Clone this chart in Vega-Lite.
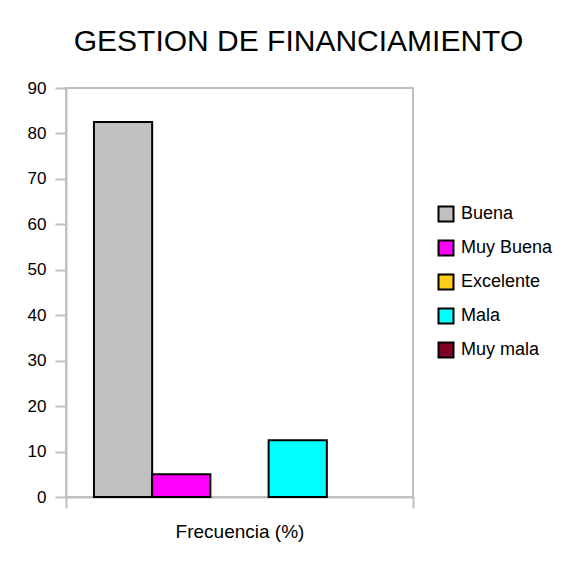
{
  "$schema": "https://vega.github.io/schema/vega-lite/v6.json",
  "autosize": {"type": "none"},
  "width": 347,
  "height": 409,
  "padding": {"left": 66, "top": 88, "right": 158, "bottom": 68},
  "background": "white",
  "title": {
    "text": "GESTION DE FINANCIAMIENTO",
    "font": "Liberation Sans",
    "fontSize": 30,
    "fontWeight": "normal",
    "color": "black",
    "anchor": "middle",
    "frame": "group",
    "dx": 59,
    "baseline": "alphabetic",
    "offset": -2
  },
  "data": {
    "values": [
      {"serie": "Frecuencia (%)", "categoria": "Buena", "valor": 82.5},
      {"serie": "Frecuencia (%)", "categoria": "Muy Buena", "valor": 5},
      {"serie": "Frecuencia (%)", "categoria": "Excelente", "valor": 0},
      {"serie": "Frecuencia (%)", "categoria": "Mala", "valor": 12.5},
      {"serie": "Frecuencia (%)", "categoria": "Muy mala", "valor": 0}
    ]
  },
  "transform": [{"filter": "datum.valor > 0"}],
  "mark": {"type": "bar", "stroke": "black", "strokeWidth": 2, "opacity": 1},
  "encoding": {
    "x": {
      "field": "serie",
      "type": "nominal",
      "scale": {"paddingInner": 0, "paddingOuter": 0},
      "axis": {
        "title": "Frecuencia (%)",
        "labels": false,
        "tickBand": "extent",
        "domainColor": "#c0c0c0",
        "domainWidth": 2,
        "tickColor": "#c0c0c0",
        "tickWidth": 2,
        "tickSize": 11,
        "titleFont": "Liberation Sans",
        "titleFontSize": 19,
        "titleFontWeight": "normal",
        "titleColor": "black",
        "titlePadding": 13
      }
    },
    "xOffset": {
      "field": "categoria",
      "type": "nominal",
      "sort": ["Buena", "Muy Buena", "Excelente", "Mala", "Muy mala"],
      "scale": {"domain": ["Buena", "Muy Buena", "Excelente", "Mala", "Muy mala"], "paddingInner": 0, "paddingOuter": 0.48}
    },
    "y": {
      "field": "valor",
      "type": "quantitative",
      "scale": {"domain": [0, 90], "nice": false},
      "axis": {
        "title": null,
        "values": [0, 10, 20, 30, 40, 50, 60, 70, 80, 90],
        "grid": false,
        "domainColor": "#c0c0c0",
        "domainWidth": 2,
        "tickColor": "#c0c0c0",
        "tickWidth": 2,
        "tickSize": 11,
        "labelPadding": 9,
        "labelFont": "Liberation Sans",
        "labelFontSize": 17,
        "labelColor": "black"
      }
    },
    "color": {
      "field": "categoria",
      "type": "nominal",
      "scale": {
        "domain": ["Buena", "Muy Buena", "Excelente", "Mala", "Muy mala"],
        "range": ["#c0c0c0", "#ff00ff", "#ffcc1a", "#00ffff", "#800026"]
      },
      "legend": {
        "title": null,
        "orient": "none",
        "legendX": 371,
        "legendY": 117,
        "symbolType": "square",
        "symbolSize": 225,
        "symbolStrokeColor": "black",
        "symbolStrokeWidth": 2,
        "symbolOpacity": 1,
        "labelFont": "Liberation Sans",
        "labelFontSize": 18,
        "labelColor": "black",
        "labelOffset": 6,
        "rowPadding": 10
      }
    }
  },
  "config": {
    "view": {"stroke": "#c0c0c0", "strokeWidth": 2}
  }
}
